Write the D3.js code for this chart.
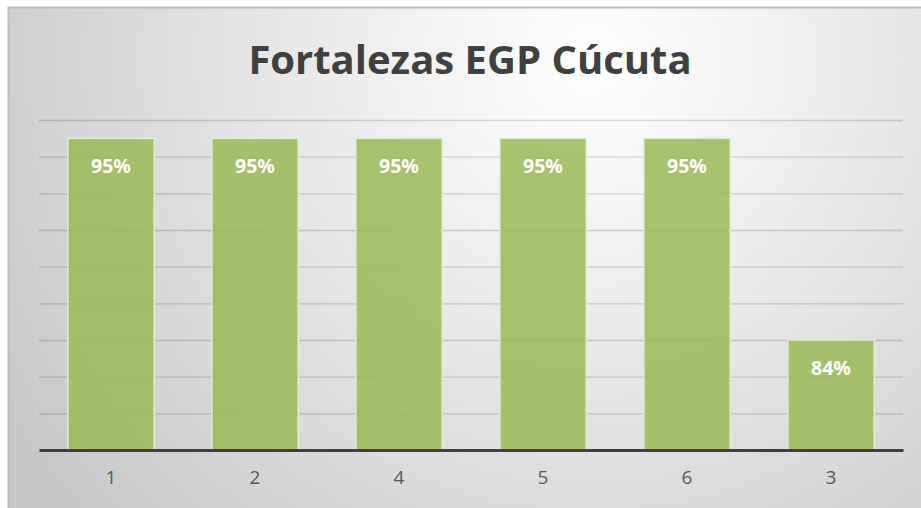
<!DOCTYPE html>
<html>
<head>
<meta charset="utf-8">
<script src="https://cdn.jsdelivr.net/npm/d3@7"></script>
<style>
  body { margin: 0; background: #fff; }
  text { font-family: "Open Sans", "Noto Sans", sans-serif; }
</style>
</head>
<body>
<div id="chart"></div>
<script>
var categories = ["1", "2", "4", "5", "6", "3"];
var values = [0.95, 0.95, 0.95, 0.95, 0.95, 0.84];
var gridTicks = [0.80, 0.82, 0.84, 0.86, 0.88, 0.90, 0.92, 0.94, 0.96];
var title = "Fortalezas EGP Cúcuta";

var svgwidth = 921, svgheight = 508;

var svg = d3.select("#chart").append("svg")
    .attr("width", svgwidth)
    .attr("height", svgheight);

var defs = svg.append("defs");
var grad = defs.append("radialGradient")
    .attr("id", "bg")
    .attr("gradientUnits", "userSpaceOnUse")
    .attr("cx", 590).attr("cy", 60).attr("r", 680);
grad.append("stop").attr("offset", "0%").attr("stop-color", "#ffffff");
grad.append("stop").attr("offset", "30%").attr("stop-color", "#f0f0f0");
grad.append("stop").attr("offset", "100%").attr("stop-color", "#c8c8c8");

svg.append("rect")
    .attr("x", 8.5).attr("y", 7.5)
    .attr("width", 930).attr("height", 520)
    .style("fill", "url(#bg)")
    .style("stroke", "#bdbdbd")
    .style("stroke-width", 2);

var xScale = d3.scaleBand()
    .domain(categories)
    .range([39, 903])
    .paddingInner(0.4)
    .paddingOuter(0.2);

var yScale = d3.scaleLinear()
    .domain([0.78, 0.96])
    .range([450, 120]);

// gridlines
var yAxis = d3.axisLeft(yScale)
    .tickValues(gridTicks)
    .tickSize(-(903 - 39))
    .tickFormat("");
svg.append("g")
    .attr("transform", "translate(39,0)")
    .call(yAxis)
    .call(function(g){ g.select(".domain").remove(); })
    .selectAll("line")
    .style("stroke", "#000")
    .style("stroke-opacity", 0.15)
    .style("stroke-width", 1.3);

// bars
svg.selectAll(".bar").data(values).enter().append("rect")
    .attr("class", "bar")
    .attr("x", function(d, i){ return xScale(categories[i]); })
    .attr("y", function(d){ return yScale(d); })
    .attr("width", xScale.bandwidth())
    .attr("height", function(d){ return yScale.range()[0] - yScale(d); })
    .style("fill", "#9bbb59")
    .style("fill-opacity", 0.88)
    .style("stroke", "#e4eed4")
    .style("stroke-width", 1.5);

// bar labels
svg.selectAll(".lbl").data(values).enter().append("text")
    .attr("class", "lbl")
    .attr("x", function(d, i){ return xScale(categories[i]) + xScale.bandwidth() / 2; })
    .attr("y", function(d){ return yScale(d) + 35; })
    .attr("text-anchor", "middle")
    .style("fill", "#ffffff")
    .style("font-size", "19.5px")
    .style("font-weight", "bold")
    .text(function(d){ return d3.format(".0%")(d); });

// x axis
var xAxis = d3.axisBottom(xScale).tickSize(0).tickPadding(21);
var gx = svg.append("g")
    .attr("transform", "translate(0,450)")
    .call(xAxis);
gx.select(".domain")
    .style("stroke", "#404040")
    .style("stroke-width", 3);
gx.selectAll("text")
    .style("fill", "#595959")
    .style("font-size", "19px")
    .style("font-family", "'Open Sans', 'Noto Sans', sans-serif");

// title
svg.append("text")
    .attr("x", 470)
    .attr("y", 74)
    .attr("text-anchor", "middle")
    .style("fill", "#404040")
    .style("font-size", "40px")
    .style("font-weight", "bold")
    .text(title);
</script>
</body>
</html>
